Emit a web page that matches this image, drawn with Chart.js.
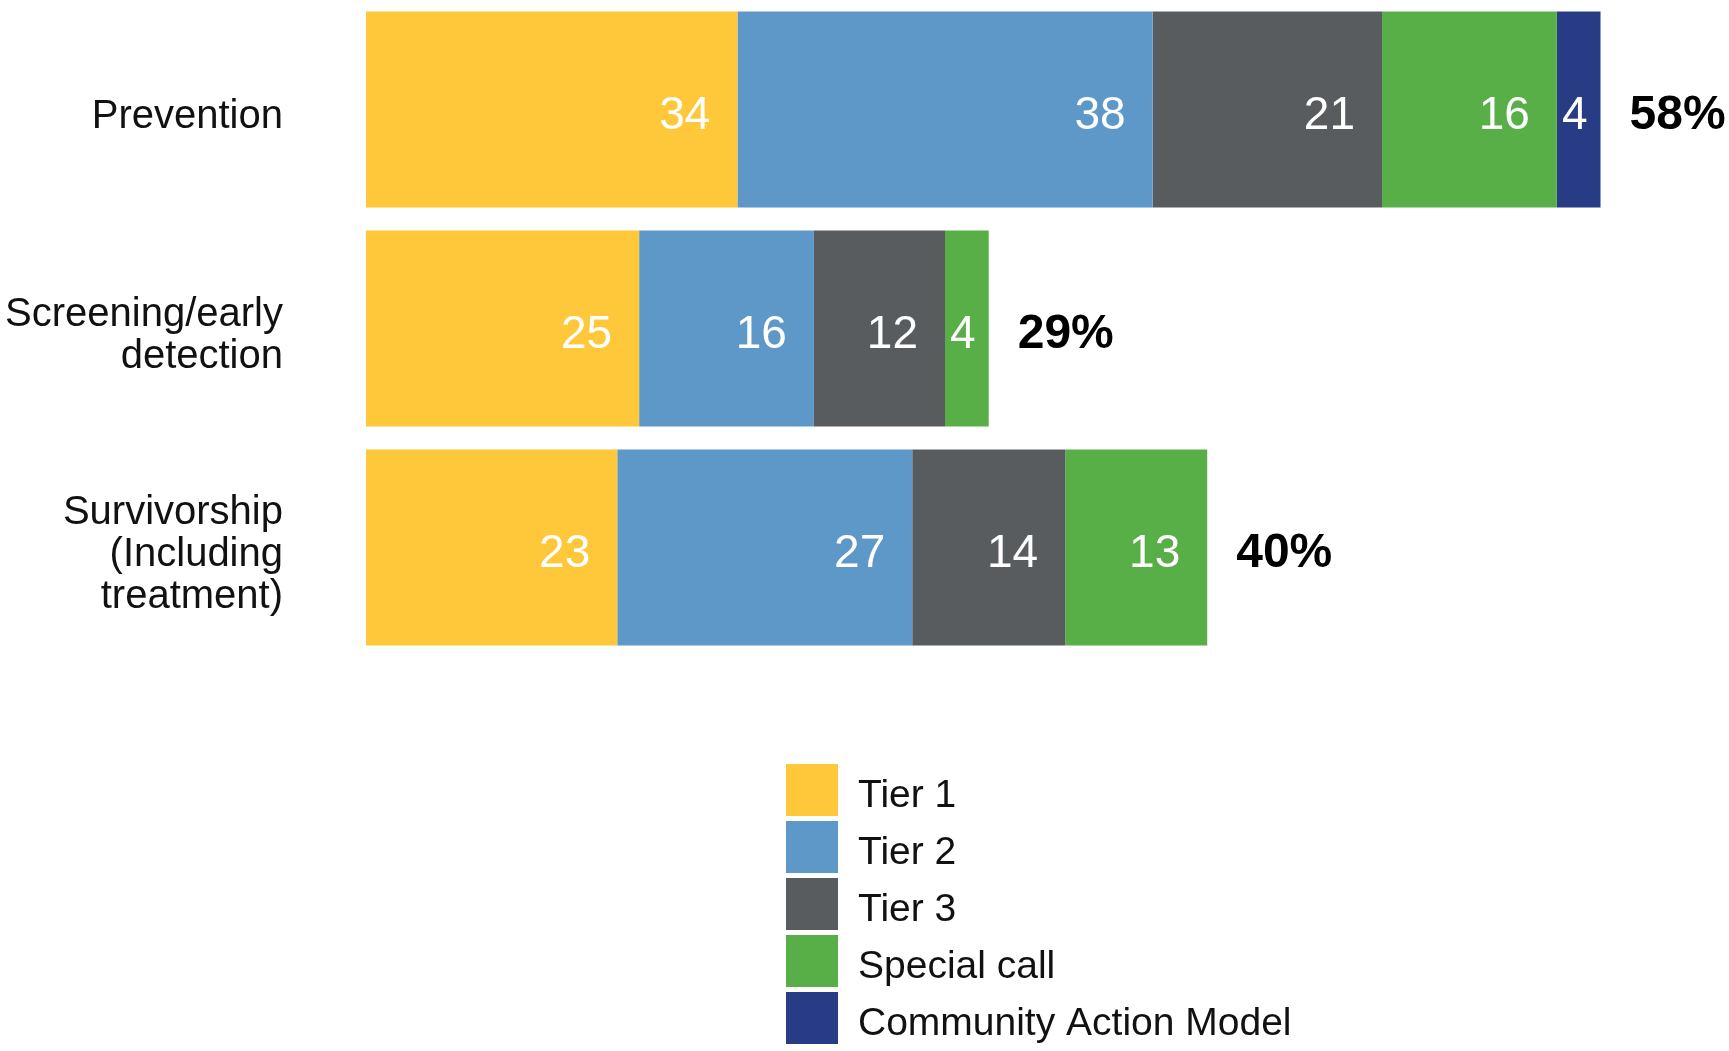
<!DOCTYPE html>
<html>
<head>
<meta charset="utf-8">
<script src="https://cdn.jsdelivr.net/npm/chart.js@4"></script>
<style>
html, body { margin: 0; padding: 0; background: #fff; }
</style>
</head>
<body>
<canvas id="chart" width="1729" height="1051"></canvas>
<script>
// data
const categories = [["Prevention"], ["Screening/early", "detection"], ["Survivorship", "(Including", "treatment)"]];
const seriesNames = ["Tier 1", "Tier 2", "Tier 3", "Special call", "Community Action Model"];
const tier1 = [34, 25, 23];
const tier2 = [38, 16, 27];
const tier3 = [21, 12, 14];
const specialCall = [16, 4, 13];
const communityAction = [4, null, null];
const totalLabels = ["58%", "29%", "40%"];
const seriesColors = ["#FEC83A", "#5E98C9", "#585C5F", "#59AF47", "#283C86"];

const FONT = '"Liberation Sans", Arial, sans-serif';

// white numbers inside segments + bold totals at bar ends
const barLabels = {
  id: "barLabels",
  afterDatasetsDraw(chart) {
    const ctx = chart.ctx;
    ctx.save();
    ctx.textBaseline = "middle";
    const ends = [];
    chart.data.datasets.forEach((ds, i) => {
      const meta = chart.getDatasetMeta(i);
      meta.data.forEach((bar, j) => {
        const v = ds.data[j];
        if (v == null) return;
        ends[j] = Math.max(ends[j] || 0, bar.x);
        const w = bar.x - bar.base;
        ctx.fillStyle = "#ffffff";
        ctx.font = "46px " + FONT;
        if (w < 60) {
          ctx.textAlign = "center";
          ctx.fillText(v, (bar.x + bar.base) / 2 - 4, bar.y + 7);
        } else {
          ctx.textAlign = "right";
          ctx.fillText(v, bar.x - 27, bar.y + 7);
        }
      });
    });
    const meta0 = chart.getDatasetMeta(0);
    ctx.fillStyle = "#000000";
    ctx.textAlign = "left";
    ctx.font = "bold 48px " + FONT;
    totalLabels.forEach((t, j) => {
      ctx.fillText(t, ends[j] + 29, meta0.data[j].y + 6);
    });
    ctx.restore();
  }
};

// one-column legend under the bars
const listLegend = {
  id: "listLegend",
  afterDraw(chart) {
    const ctx = chart.ctx;
    const x0 = 786, y0 = chart.chartArea.bottom + 107, box = 52, step = 57;
    ctx.save();
    ctx.textBaseline = "middle";
    ctx.textAlign = "left";
    ctx.font = "39px " + FONT;
    chart.data.datasets.forEach((ds, i) => {
      const y = y0 + i * step;
      ctx.fillStyle = ds.backgroundColor;
      ctx.fillRect(x0, y, box, box);
      ctx.fillStyle = "#111111";
      ctx.fillText(ds.label, x0 + 72, y + box / 2 + 6);
    });
    ctx.restore();
  }
};

const seriesData = [tier1, tier2, tier3, specialCall, communityAction];

new Chart(document.getElementById("chart"), {
  type: "bar",
  data: {
    labels: categories,
    datasets: seriesNames.map((name, i) => ({
      label: name,
      data: seriesData[i],
      backgroundColor: seriesColors[i],
      borderWidth: 0,
      categoryPercentage: 1,
      barPercentage: 0.895
    }))
  },
  options: {
    indexAxis: "y",
    responsive: false,
    animation: false,
    devicePixelRatio: 1,
    layout: { padding: { left: 0, right: 52, top: 0, bottom: 394 } },
    scales: {
      x: { stacked: true, display: false, min: 0, max: 120 },
      y: {
        stacked: true,
        grid: { display: false, drawTicks: false },
        border: { display: false },
        afterFit(scale) {
          scale.width = 366;
          scale.paddingTop = 0;
          scale.paddingBottom = 0;
        },
        ticks: {
          padding: 83,
          labelOffset: 7,
          color: "#111111",
          font: { family: FONT, size: 40, lineHeight: 1.05 }
        }
      }
    },
    plugins: {
      legend: { display: false },
      tooltip: { enabled: false }
    }
  },
  plugins: [barLabels, listLegend]
});
</script>
</body>
</html>
